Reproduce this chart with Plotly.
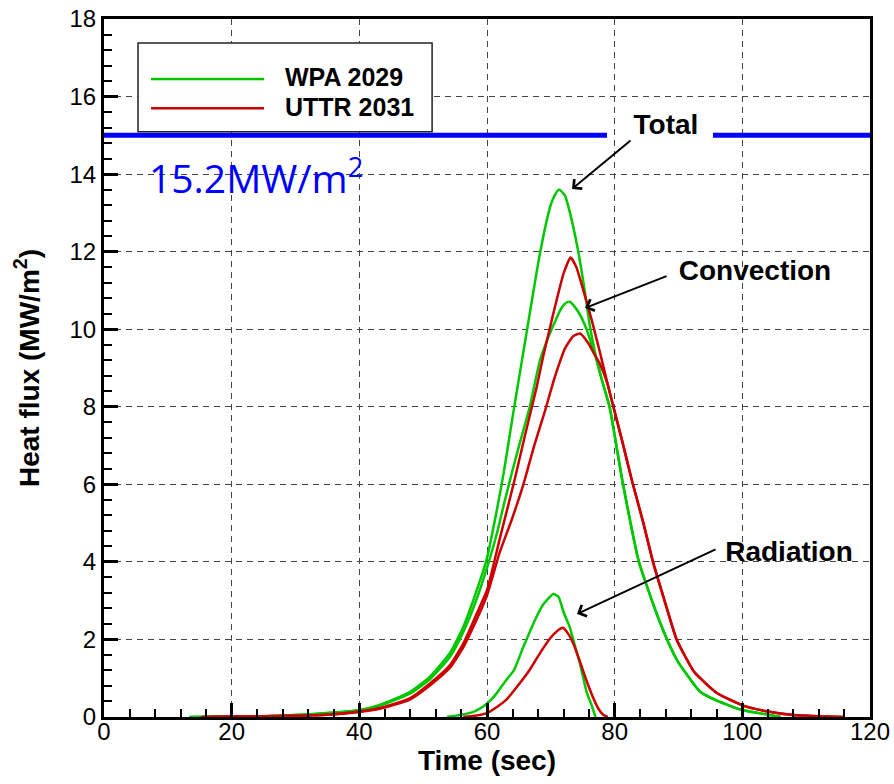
import plotly.graph_objects as go

# ---------------- data ----------------
wpa_total_t = [13.4, 20, 25, 30, 35, 40, 43.2, 47.9, 51.1, 54.2, 56.3, 58.4, 60.0, 61.5, 62.6, 64.1,
               65.4, 66.7, 68.3, 69.9, 70.6, 71.3, 72.2, 73.0, 74.3, 75.3, 76.1, 77.0, 78.0, 79.2,
               81.2, 83.8, 85.0, 86.5, 88.2, 90.0, 91.5, 93.4, 96.0, 100.0, 104.0, 106.0]
wpa_total_v = [0.0, 0.01, 0.02, 0.05, 0.1, 0.18, 0.31, 0.64, 1.05, 1.65, 2.33, 3.27, 4.1, 5.3, 6.28, 7.83,
               9.12, 10.41, 11.96, 13.16, 13.45, 13.6, 13.45, 13.0, 12.0, 11.0, 10.1, 9.35, 8.69, 8.0,
               6.1, 4.0, 3.4, 2.7, 2.0, 1.4, 1.05, 0.65, 0.42, 0.18, 0.06, 0.0]

wpa_conv_t = [13.4, 20, 25, 30, 35, 40, 43.2, 47.9, 51.1, 54.2, 56.3, 58.4, 60.0, 61.5, 62.6, 63.9,
              65.2, 66.7, 68.3, 69.5, 70.4, 71.5, 72.3, 73.0, 74.3, 75.6, 76.4, 77.0, 78.0, 79.2,
              81.2, 83.8, 85.0, 86.5, 88.2, 90.0, 91.5, 93.4, 96.0, 100.0, 104.0, 106.0]
wpa_conv_v = [0.0, 0.01, 0.02, 0.05, 0.1, 0.17, 0.29, 0.6, 0.98, 1.55, 2.2, 3.05, 3.85, 4.7, 5.45, 6.3,
              7.1, 8.0, 9.2, 9.75, 10.1, 10.5, 10.67, 10.71, 10.45, 10.0, 9.6, 9.3, 8.69, 8.0,
              6.1, 4.0, 3.4, 2.7, 2.0, 1.4, 1.05, 0.65, 0.42, 0.18, 0.06, 0.0]

wpa_rad_t = [53.7, 55.8, 58.0, 59.4, 60.5, 61.5, 63.0, 64.2, 65.7, 67.8, 68.8, 70.4, 71.2, 72.0,
             73.0, 73.5, 74.6, 75.6, 76.4, 77.0]
wpa_rad_v = [0.0, 0.05, 0.14, 0.27, 0.42, 0.61, 0.95, 1.2, 1.81, 2.6, 2.9, 3.17, 3.1, 2.7,
             2.3, 2.0, 1.35, 0.65, 0.3, 0.0]

uttr_total_t = [15.3, 20, 25, 30, 35, 40, 43.2, 47.9, 51.1, 54.2, 56.3, 58.4, 60.0, 62.0, 64.3, 66.0,
                67.8, 68.8, 70.4, 72.0, 73.1, 74.0, 75.1, 76.4, 77.0, 77.7, 78.8, 79.8, 81.2, 82.7,
                84.5, 86.0, 88.0, 89.7, 92.3, 93.4, 96.0, 100.0, 104.0, 108.0, 112.0, 115.8]
uttr_total_v = [0.0, 0.01, 0.02, 0.03, 0.06, 0.14, 0.23, 0.48, 0.87, 1.34, 1.9, 2.67, 3.27, 4.6, 6.1, 7.3,
                8.52, 9.3, 10.41, 11.44, 11.85, 11.6, 11.0, 10.24, 9.85, 9.4, 8.65, 8.0, 7.1, 6.1,
                5.0, 4.0, 2.9, 2.0, 1.2, 1.0, 0.62, 0.3, 0.14, 0.05, 0.02, 0.0]

uttr_conv_t = [15.3, 20, 25, 30, 35, 40, 43.2, 47.9, 51.1, 54.2, 56.3, 58.4, 60.0, 62.0, 63.9, 65.7,
               67.4, 69.1, 70.4, 71.4, 72.2, 73.5, 74.6, 75.9, 77.0, 77.7, 78.8, 79.8, 81.2, 82.7,
               84.5, 86.0, 88.0, 89.7, 92.3, 93.4, 96.0, 100.0, 104.0, 108.0, 112.0, 115.8]
uttr_conv_v = [0.0, 0.01, 0.02, 0.03, 0.06, 0.13, 0.21, 0.45, 0.82, 1.27, 1.8, 2.52, 3.14, 4.25, 5.1, 6.0,
               7.0, 7.9, 8.65, 9.15, 9.5, 9.82, 9.89, 9.63, 9.3, 9.1, 8.63, 8.0, 7.1, 6.1,
               5.0, 4.0, 2.9, 2.0, 1.2, 1.0, 0.62, 0.3, 0.14, 0.05, 0.02, 0.0]

uttr_rad_t = [56.3, 58.0, 60.0, 61.5, 63.0, 64.7, 66.7, 68.5, 70.0, 71.0, 71.9, 72.7, 73.5, 74.3,
              75.1, 75.9, 76.7, 77.5, 78.2, 78.9]
uttr_rad_v = [0.0, 0.03, 0.1, 0.25, 0.44, 0.78, 1.22, 1.7, 2.05, 2.22, 2.3, 2.15, 1.9, 1.55,
              1.17, 0.8, 0.47, 0.2, 0.06, 0.0]

limit_t = [0, 78.8, None, 95.4, 120]
limit_v = [15, 15, None, 15, 15]
limit_label = "15.2MW/m<sup>2</sup>"

series_names = ["WPA 2029", "UTTR 2031"]
x_ticks = [0, 20, 40, 60, 80, 100, 120]
y_ticks = [0, 2, 4, 6, 8, 10, 12, 14, 16, 18]

GREEN = "#00c800"
RED = "#cc0000"
BLUE = "#0000ff"
ARIAL = "Liberation Sans, Arial, sans-serif"

fig = go.Figure()

fig.add_trace(go.Scatter(x=limit_t, y=limit_v, mode="lines", line=dict(color=BLUE, width=5),
                         showlegend=False, hoverinfo="skip"))

for t, v in [(wpa_total_t, wpa_total_v), (wpa_conv_t, wpa_conv_v), (wpa_rad_t, wpa_rad_v)]:
    fig.add_trace(go.Scatter(x=t, y=v, mode="lines",
                             line=dict(color=GREEN, width=2.5, shape="spline", smoothing=0.5),
                             name=series_names[0], legendgroup="wpa", showlegend=False))
for t, v in [(uttr_total_t, uttr_total_v), (uttr_conv_t, uttr_conv_v), (uttr_rad_t, uttr_rad_v)]:
    fig.add_trace(go.Scatter(x=t, y=v, mode="lines",
                             line=dict(color=RED, width=2.5, shape="spline", smoothing=0.5),
                             name=series_names[1], legendgroup="uttr", showlegend=False))

axis_common = dict(
    showgrid=True, gridcolor="#444444", gridwidth=1, griddash="6px,5px",
    showline=True, linecolor="black", linewidth=3, mirror=True,
    ticks="inside", ticklen=14, tickwidth=2.5, tickcolor="black",
    tickfont=dict(family=ARIAL, size=24, color="black"),
    zeroline=False, automargin=False,
)

fig.update_xaxes(range=[0, 120], tickvals=x_ticks, ticklabelstandoff=-9,
                 minor=dict(dtick=4, tick0=0, ticks="inside", ticklen=8, tickwidth=1.5,
                            tickcolor="black", showgrid=False),
                 title=dict(text="Time (sec)", font=dict(family=ARIAL, size=28, color="black", weight="bold"),
                            standoff=6),
                 **axis_common)
fig.update_yaxes(range=[0, 18], tickvals=y_ticks,
                 minor=dict(dtick=0.4, tick0=0, ticks="inside", ticklen=8, tickwidth=1.5,
                            tickcolor="black", showgrid=False),
                 title=dict(text="Heat flux (MW/m<sup>2</sup>)",
                            font=dict(family=ARIAL, size=28, color="black", weight="bold"),
                            standoff=22),
                 **axis_common)

# custom legend box
fig.add_shape(type="rect", xref="x", yref="y", x0=5.33, x1=51.4, y0=15.09, y1=17.38,
              fillcolor="white", line=dict(color="#222222", width=1.5), layer="above")
fig.add_shape(type="line", xref="x", yref="y", x0=7.36, x1=25.07, y0=16.45, y1=16.45,
              line=dict(color=GREEN, width=2.5), layer="above")
fig.add_shape(type="line", xref="x", yref="y", x0=7.36, x1=25.07, y0=15.70, y1=15.70,
              line=dict(color=RED, width=2.5), layer="above")
for name, yy in zip(series_names, [16.5, 15.72]):
    fig.add_annotation(x=28.0, y=yy, xref="x", yref="y", text=name, showarrow=False,
                       xanchor="left", yanchor="middle",
                       font=dict(family=ARIAL, size=25, color="black", weight="bold"))

# limit label
fig.add_annotation(x=6.74, y=13.95, xref="x", yref="y", text=limit_label, showarrow=False,
                   xanchor="left", yanchor="middle",
                   font=dict(family="Open Sans, sans-serif", size=39, color=BLUE))

# labels with arrows: (text, box centre x, box centre y, head x, head y, box w, box h)
labels = [("Total", 88.05, 15.63, 73.32, 13.615, 76, 58),
          ("Convection", 101.99, 12.26, 75.36, 10.547, 176, 89),
          ("Radiation", 107.32, 5.21, 74.10, 2.656, 146, 104)]
for txt, cx, cy, hx, hy, bw, bh in labels:
    fig.add_annotation(x=hx, y=hy, ax=cx, ay=cy, xref="x", yref="y", axref="x", ayref="y",
                       text=txt, showarrow=True, arrowhead=4, arrowsize=1.2, arrowwidth=2,
                       arrowcolor="black", standoff=0, startstandoff=0,
                       width=bw, height=bh, align="center", valign="bottom", borderpad=0,
                       font=dict(family=ARIAL, size=28, color="black", weight="bold"))

fig.update_layout(
    width=894, height=784,
    margin=dict(l=104, r=24, t=19, b=67),
    paper_bgcolor="white", plot_bgcolor="white",
    showlegend=False,
)

fig.write_html("out.html")
